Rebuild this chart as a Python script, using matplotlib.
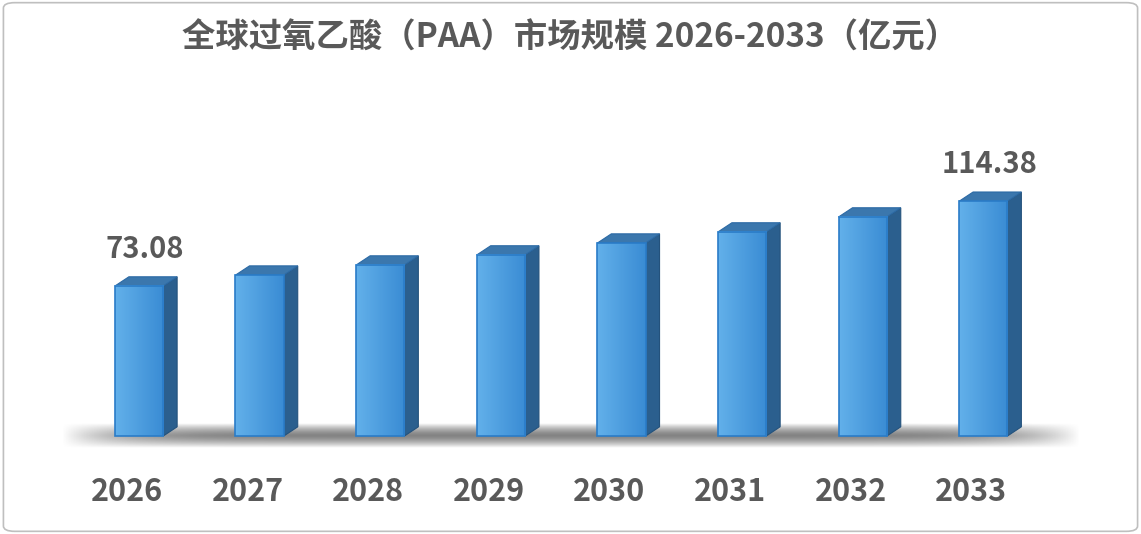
import matplotlib
matplotlib.use("Agg")
import matplotlib.pyplot as plt
import numpy as np
from matplotlib.patches import Polygon, FancyBboxPatch

plt.rcParams['font.family'] = ['Noto Sans CJK SC', 'DejaVu Sans']

years = ['2026', '2027', '2028', '2029', '2030', '2031', '2032', '2033']
values = [73.08, 78.4, 83.3, 88.2, 94.0, 99.4, 106.7, 114.38]
labeled = {0: '73.08', 7: '114.38'}
title = '全球过氧乙酸（PAA）市场规模 2026-2033（亿元）'

fig = plt.figure(figsize=(11.41, 5.34), dpi=100)
ax = fig.add_axes([0, 0, 1, 1])
ax.set_xlim(-1.1526, 8.308)
ax.set_ylim(-47.7, 212.4)
ax.axis('off')

fig.patches.append(FancyBboxPatch((0.003, 0.005), 0.994, 0.99, boxstyle='round,pad=0,rounding_size=0.01',
                                  transform=fig.transFigure, fill=False, edgecolor='#bfbfbf', lw=1.2))

yy = np.linspace(-1, 1, 60)[:, None]
xx = np.linspace(-1, 1, 400)[None, :]
alpha = np.clip(1 - np.abs(yy) ** 1.5, 0, 1) * np.clip((1 - np.abs(xx) ** 8), 0, 1)
img = np.zeros((60, 400, 4))
img[..., :3] = 0.35
img[..., 3] = alpha * 0.75
ax.imshow(img, extent=(-0.65, 7.8, -6, 6), aspect='auto', zorder=1)

w = 0.2
dx, dy = 0.116, 4.5
for i, v in enumerate(values):
    x0, x1 = i - w, i + w
    ax.add_patch(Polygon([(x1, 0), (x1 + dx, dy), (x1 + dx, v + dy), (x1, v)],
                         closed=True, facecolor='#2b5f8e', edgecolor='#24527c', lw=0.8, zorder=2))
    ax.add_patch(Polygon([(x0, v), (x0 + dx, v + dy), (x1 + dx, v + dy), (x1, v)],
                         closed=True, facecolor='#3b77ad', edgecolor='#2c6aa5', lw=0.8, zorder=2))
    gimg = np.zeros((2, 50, 3))
    c1 = np.array([0x62, 0xb0, 0xea]) / 255
    c2 = np.array([0x3a, 0x8c, 0xd4]) / 255
    t = np.linspace(0, 1, 50)[:, None]
    gimg[:] = c1 * (1 - t) + c2 * t
    ax.imshow(gimg, extent=(x0, x1, 0, v), aspect='auto', zorder=3)
    ax.add_patch(Polygon([(x0, 0), (x1, 0), (x1, v), (x0, v)], closed=True,
                         fill=False, edgecolor='#2a7cc8', lw=1.2, zorder=4))
    ax.text(i - 0.1, -27, years[i], ha='center', va='center', fontsize=22,
            fontweight='bold', color='#595959')
    if i in labeled:
        ax.text(i + 0.05, v + 18, labeled[i], ha='center', va='center', fontsize=21,
                fontweight='bold', color='#595959')

fig.text(0.5, 0.928, title, ha='center', va='center', fontsize=24, fontweight='bold', color='#595959')
fig.savefig('out.png', dpi=100)
